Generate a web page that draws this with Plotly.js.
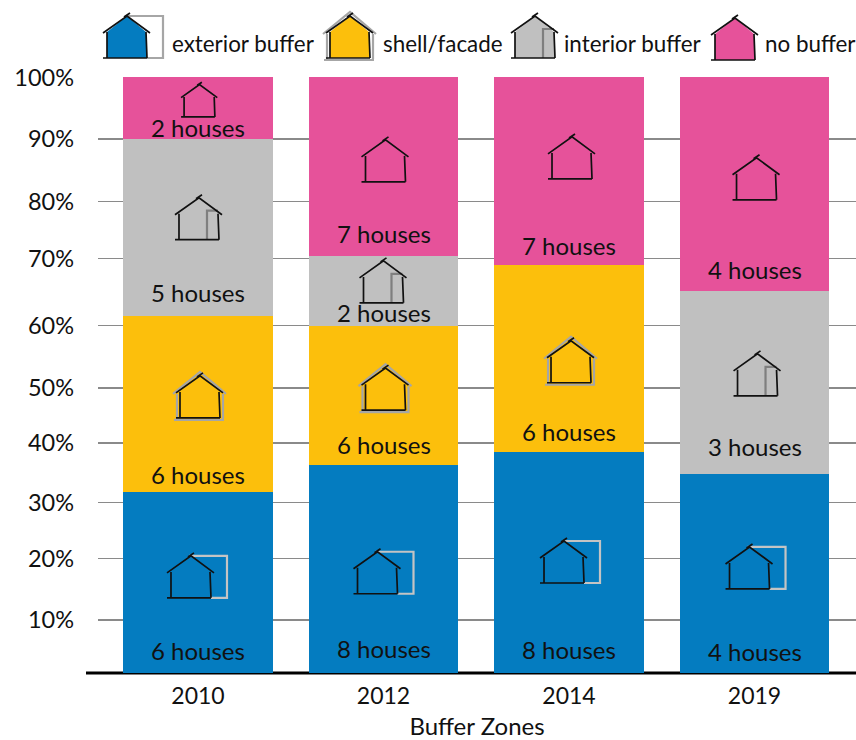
<!DOCTYPE html>
<html><head><meta charset="utf-8">
<script src="https://cdn.plot.ly/plotly-3.0.1.min.js"></script>
<style>html,body{margin:0;padding:0;background:#fff}</style></head>
<body><div id="chart" style="width:856px;height:740px"></div>
<script>
var years = ['2010','2012','2014','2019'];
var seriesNames = ['exterior buffer','shell/facade','interior buffer','no buffer'];
var colors = ['#047cc0','#fcbf0c','#c0c0c0','#e6529a'];
var exterior = [30.4, 34.9, 37.1, 33.4];
var shell = [29.5, 23.3, 31.4, 0];
var interior = [29.7, 11.8, 0, 30.7];
var noBuffer = [10.4, 30, 31.5, 35.9];
var gridValues = [8.9, 19.2, 28.6, 38.6, 47.8, 58.3, 69.5, 79.1, 89.6, 99.9];
var gridLabels = ['10%','20%','30%','40%','50%','60%','70%','80%','90%','100%'];
// [year index, label, height in %]
var labels = [
 [0,'6 houses',3.6],[0,'6 houses',33.1],[0,'5 houses',63.6],[0,'2 houses',91.4],
 [1,'8 houses',3.9],[1,'6 houses',38.1],[1,'2 houses',60.4],[1,'7 houses',73.5],
 [2,'8 houses',3.7],[2,'6 houses',40.3],[2,'7 houses',71.6],
 [3,'4 houses',3.5],[3,'3 houses',37.8],[3,'4 houses',67.6]
];
// [year index, type, pixel shift, base height in %, scale]
var icons = [
 [0,'ext',-9,12.6,1],[0,'shell',0,42.8,1],[0,'int',-1,72.7,1],[0,'no',0,93.3,0.77],
 [1,'ext',-8,13.3,1],[1,'shell',0,44.1,1],[1,'int',-2,62.1,1],[1,'no',0,82.4,1],
 [2,'ext',-7,15.1,1],[2,'shell',0,48.7,1],[2,'no',1,82.9,1],
 [3,'ext',-7,14.1,1],[3,'int',1,46.5,1],[3,'no',0,79.4,1]
];
var legendIcons = [['ext',125,58,'#a6a6a6'],['shell',348,58,'#a6a6a6'],['int',533,58,'#7f7f7f'],['no',733,60,null]];
var legendTexts = [[172,'exterior buffer'],[383,'shell/facade'],[564,'interior buffer'],[765,'no buffer']];
var W=856,H=740,L=98,T=77,B=673;

function P(pts,s,dx,close){return pts.map(function(p,i){return (i?'L':'M')+(p[0]*s+dx).toFixed(1)+','+(p[1]*s).toFixed(1);}).join(' ')+(close?' Z':'');}
function housePath(s,dx){return [
 P([[-22,25],[2,42],[25,25]],s,dx),P([[-18,26],[-18,0]],s,dx),P([[21,26],[22,0]],s,dx),
 P([[-22,0],[22,0]],s,dx),P([[-1,41],[5,45]],s,dx)].join(' ');}
function bufferPart(type,s,dx,gray){
 if(type==='ext')return {p:P([[0,42],[38,42],[38,0],[22,0]],s,dx),c:gray};
 if(type==='int')return {p:P([[10,0],[10,29],[21,29]],s,dx),c:gray};
 if(type==='shell')return {p:[P([[-25,24],[2,46],[28,24]],s,dx),P([[-21,24],[-21,-1]],s,dx),P([[25,24],[25,-1]],s,dx),P([[-24,-2],[26,-2]],s,dx)].join(' '),c:gray};
 return null;
}
var shapes=[];
shapes.push({type:'line',layer:'below',xref:'paper',yref:'paper',x0:-12/(W-L),x1:1,y0:0,y1:0,line:{color:'#000',width:3}});
function addIcon(xref,yref,x,y,type,s,dx,gray,fill){
 var base={type:'path',xref:xref,yref:yref,xsizemode:'pixel',ysizemode:'pixel',xanchor:x,yanchor:y,layer:'above'};
 if(fill){shapes.push(Object.assign({},base,{path:P([[-18,0],[-18,26],[2,42],[21,26],[22,0]],s,dx,true),fillcolor:fill,line:{width:0}}));}
 var b=bufferPart(type,s,dx,gray);
 if(b)shapes.push(Object.assign({},base,{path:b.p,line:{color:b.c,width:2.2}}));
 shapes.push(Object.assign({},base,{path:housePath(s,dx),line:{color:'#111',width:1.7}}));
}
var grayFor={ext:'#c4c4c4',shell:'#a6a6a6',int:'#7f7f7f',no:null};
icons.forEach(function(k){addIcon('x','y',k[0],k[3],k[1],k[4],k[2],grayFor[k[1]],null);});
legendIcons.forEach(function(k,i){
 addIcon('paper','paper',(k[1]-L)/(W-L),(B-k[2])/(B-T),k[0],1,0,k[3],colors[i]);
});
var ann=[];
labels.forEach(function(k){ann.push({x:k[0],y:k[2],xref:'x',yref:'y',text:k[1],showarrow:false,xanchor:'center',yanchor:'middle',yshift:1,font:{family:'Lato',size:24,color:'#111'}});});
legendTexts.forEach(function(k){ann.push({x:(k[0]-L)/(W-L),y:(B-43)/(B-T),xref:'paper',yref:'paper',text:k[1],showarrow:false,xanchor:'left',yanchor:'middle',xshift:-2,font:{family:'Lato',size:22.4,color:'#111'}});});

var series=[exterior,shell,interior,noBuffer];
var traces=series.map(function(v,i){return {type:'bar',x:[0,1,2,3],y:v,name:seriesNames[i],marker:{color:colors[i],line:{width:0}},hoverinfo:'skip'};});
Plotly.newPlot('chart',traces,{
 width:W,height:H,barmode:'stack',bargap:0.192,showlegend:false,
 paper_bgcolor:'#fff',plot_bgcolor:'#fff',
 margin:{l:L,r:0,t:T,b:H-B,pad:0},
 font:{family:'Lato',size:22,color:'#111'},
 xaxis:{range:[-0.539,3.547],tickmode:'array',tickvals:[0,1,2,3],ticktext:years,showgrid:false,zeroline:false,showline:false,ticks:'',ticklabelstandoff:7,tickfont:{family:'Lato',size:23,color:'#111'},
   title:{text:'Buffer Zones',standoff:17,font:{family:'Lato',size:24,color:'#111'}}},
 yaxis:{range:[0,100],tickmode:'array',tickvals:gridValues,ticktext:gridLabels,showgrid:true,gridcolor:'#8a8a8a',gridwidth:1.4,zeroline:false,showline:false,ticks:'',ticklabelstandoff:23,tickfont:{family:'Lato',size:23.5,color:'#111'}},
 shapes:shapes,annotations:ann
},{displayModeBar:false,staticPlot:true});
</script></body></html>
